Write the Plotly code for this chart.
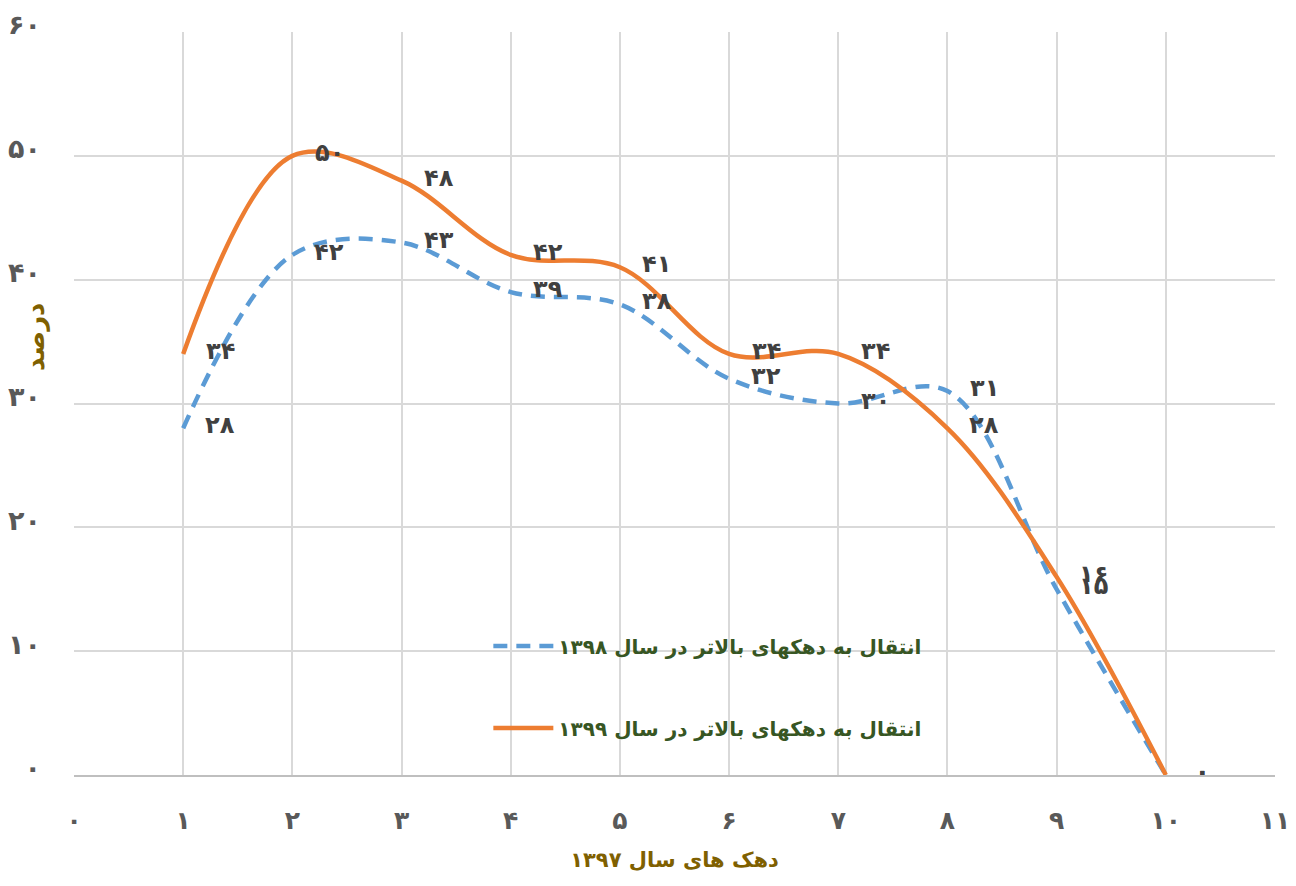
import plotly.graph_objects as go

deciles = [1, 2, 3, 4, 5, 6, 7, 8, 9, 10]
values_1398 = [28, 42, 43, 39, 38, 32, 30, 31, 15, 0]
values_1399 = [34, 50, 48, 42, 41, 34, 34, 28, 16, 0]
name_1398 = "انتقال به دهکهای بالاتر در سال ۱۳۹۸"
name_1399 = "انتقال به دهکهای بالاتر در سال ۱۳۹۹"
x_ticks = list(range(0, 12))
y_ticks = list(range(0, 61, 10))
x_title = "دهک های سال ۱۳۹۷"
y_title = "درصد"

FA = str.maketrans("0123456789", "۰۱۲۳۴۵۶۷۸۹")
def fa(v):
    return str(v).translate(FA)

FONT = "DejaVu Sans"
BLUE = "#5B9BD5"
ORANGE = "#ED7D31"

fig = go.Figure()
fig.add_trace(go.Scatter(
    x=deciles, y=values_1398, mode="lines", name="<b>" + name_1398 + "</b>", legendgroup="a",
    line=dict(color=BLUE, width=4.5, dash="14px,9px", shape="spline", smoothing=1.0),
))
fig.add_trace(go.Scatter(
    x=deciles, y=values_1399, mode="lines", name="<b>" + name_1399 + "</b>", legendgroup="b",
    line=dict(color=ORANGE, width=4.5, shape="spline", smoothing=1.0),
))

annotations = []
for series in (values_1398, values_1399):
    for xv, yv in zip(deciles, series):
        annotations.append(dict(
            x=xv, y=yv, xref="x", yref="y", text="<b>" + fa(yv) + "</b>",
            showarrow=False, xshift=37, yshift=3, xanchor="center", yanchor="middle",
            font=dict(family=FONT, size=24, color="#404040"),
        ))
annotations.append(dict(
    x=-0.033, y=0.59, xref="paper", yref="paper", text="<b>" + y_title + "</b>",
    xanchor="center", yanchor="middle",
    textangle=-90, showarrow=False, font=dict(family=FONT, size=26, color="#7F6000"),
))

fig.update_layout(
    width=1296, height=886,
    margin=dict(l=66, r=29, t=24, b=119),
    paper_bgcolor="white", plot_bgcolor="white",
    font=dict(family=FONT),
    showlegend=True,
    legend=dict(
        x=0.345, y=0.2, xanchor="left", yanchor="top",
        bgcolor="rgba(0,0,0,0)", tracegroupgap=53,
        font=dict(family=FONT, size=20, color="#375623"),
        itemwidth=60,
    ),
    xaxis=dict(
        range=[0, 11], tickvals=x_ticks, ticktext=["<b>" + fa(t) + "</b>" for t in x_ticks],
        showgrid=True, gridcolor="#D9D9D9", gridwidth=1.5, zeroline=False,
        showline=True, linecolor="#BFBFBF", linewidth=1.5,
        tickfont=dict(family=FONT, size=25, color="#595959"),
        ticklabelstandoff=22, automargin=False,
        title=dict(text="<b>" + x_title + "</b>", font=dict(family=FONT, size=21, color="#7F6000"), standoff=19),
    ),
    yaxis=dict(
        range=[0, 60], tickvals=y_ticks, ticktext=["<b>" + fa(t) + "</b>" for t in y_ticks],
        showgrid=True, gridcolor="#D9D9D9", gridwidth=1.5, zeroline=False,
        showline=False, automargin=False,
        tickfont=dict(family=FONT, size=27, color="#595959"),
        ticklabelstandoff=32, ticklabelshift=-7,
    ),
    annotations=annotations,
)
fig.write_html("out.html")
